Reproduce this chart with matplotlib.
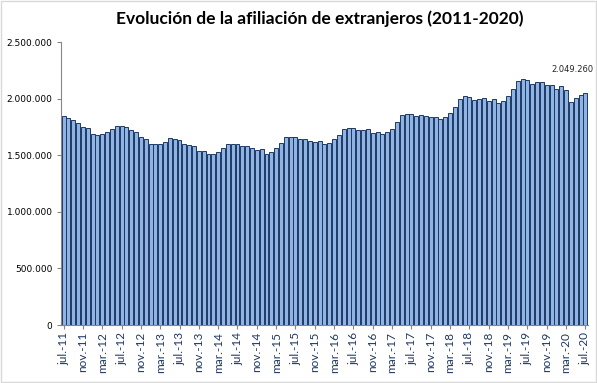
import matplotlib
matplotlib.use("Agg")
import matplotlib.pyplot as plt
from matplotlib.patches import Rectangle
from matplotlib.ticker import FuncFormatter

# afiliados extranjeros, medias mensuales jul-2011 .. jul-2020
meses = ["ene.", "feb.", "mar.", "abr.", "may.", "jun.",
         "jul.", "ago.", "sep.", "oct.", "nov.", "dic."]
afiliados = [
    1846000, 1826000, 1814000, 1782000, 1746000, 1737000,   # jul-dic 11
    1690000, 1678000, 1684000, 1705000, 1734000, 1758000,   # 2012
    1761000, 1746000, 1725000, 1702000, 1658000, 1646000,
    1596000, 1596000, 1602000, 1614000, 1649000, 1643000,   # 2013
    1631000, 1602000, 1593000, 1584000, 1540000, 1537000,
    1513000, 1510000, 1531000, 1560000, 1602000, 1602000,   # 2014
    1602000, 1578000, 1578000, 1560000, 1546000, 1552000,
    1513000, 1525000, 1560000, 1605000, 1658000, 1664000,   # 2015
    1658000, 1640000, 1643000, 1628000, 1617000, 1623000,
    1596000, 1611000, 1640000, 1678000, 1728000, 1743000,   # 2016
    1743000, 1725000, 1725000, 1731000, 1699000, 1708000,
    1684000, 1702000, 1734000, 1793000, 1852000, 1866000,   # 2017
    1866000, 1843000, 1852000, 1849000, 1834000, 1834000,
    1817000, 1834000, 1869000, 1928000, 1999000, 2023000,   # 2018
    2017000, 1988000, 1994000, 2008000, 1982000, 1994000,
    1964000, 1982000, 2023000, 2082000, 2155000, 2176000,   # 2019
    2167000, 2129000, 2144000, 2147000, 2120000, 2120000,
    2085000, 2114000, 2073000, 1973000, 2008000, 2029000,   # 2020
    2049260,
]

etiquetas = []
for i in range(len(afiliados)):
    m = (6 + i) % 12
    anio = 11 + (6 + i) // 12
    etiquetas.append(f"{meses[m]}-{anio}")

def miles(v, pos):
    return f"{int(v):,}".replace(",", ".")

fig = plt.figure(figsize=(5.97, 3.83), dpi=100)
ax = fig.add_axes([0.102, 0.1514, 0.883, 0.7389])

x = list(range(len(afiliados)))
ax.bar(x, afiliados, width=0.82, color="#8db4e2", edgecolor="#1f3864", linewidth=0.7)

ax.set_xlim(-0.55, len(afiliados) - 0.45)
ax.set_ylim(0, 2500000)
ax.set_yticks(range(0, 2500001, 500000))
ax.yaxis.set_major_formatter(FuncFormatter(miles))
ax.tick_params(axis="y", labelsize=6.5, length=3, color="#868686", pad=3)

ax.set_xticks(x[::4])
ax.set_xticklabels(etiquetas[::4], rotation=90, fontsize=8.5, color="#1f3864",
                   fontfamily="Lato")
ax.tick_params(axis="x", length=3, color="#868686", pad=2)

for s in ["top", "right"]:
    ax.spines[s].set_visible(False)
for s in ["left", "bottom"]:
    ax.spines[s].set_color("#868686")
    ax.spines[s].set_linewidth(0.8)

# etiqueta del ultimo valor
ax.text(x[-1] - 2.7, 2253000, miles(afiliados[-1], None), fontsize=6,
        ha="center", va="center", color="#262626")

fig.text(0.535, 0.951, "Evolución de la afiliación de extranjeros (2011-2020)",
         ha="center", va="center", fontsize=12.5, fontweight="bold", fontfamily="Lato")

fig.patches.append(Rectangle((0.001, 0.003), 0.997, 0.994, transform=fig.transFigure,
                             fill=False, edgecolor="#d9d9d9", linewidth=1))

fig.savefig("out.png", dpi=100)
